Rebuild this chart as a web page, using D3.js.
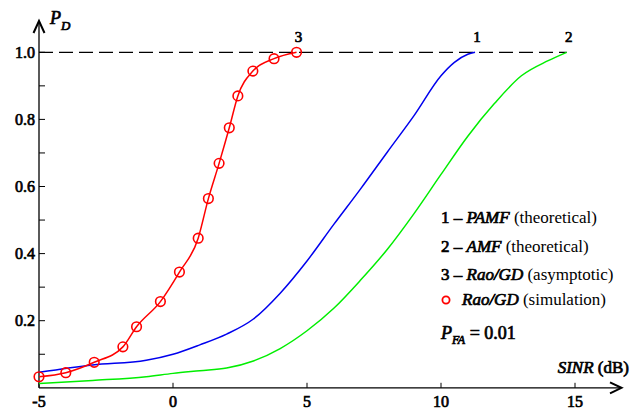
<!DOCTYPE html>
<html><head><meta charset="utf-8">
<script src="https://cdn.jsdelivr.net/npm/d3@7"></script>
</head><body style="margin:0">
<svg id="c" width="631" height="410"></svg>
<script>
// PAMF (theoretical), curve 1
const pamfX = [-5, -3, -1, 0, 1, 2, 3, 4, 5, 6, 7, 8, 9, 10, 10.5, 11, 11.27];
const pamfY = [0.046, 0.068, 0.082, 0.100, 0.128, 0.160, 0.205, 0.282, 0.378, 0.487, 0.593, 0.703, 0.812, 0.930, 0.970, 0.994, 1.0];
// AMF (theoretical), curve 2
const amfX = [-5, -3, -1, 0, 1, 2, 3, 4, 5, 6, 7, 8, 9, 10, 11, 12, 13, 14, 14.69];
const amfY = [0.013, 0.022, 0.033, 0.043, 0.051, 0.059, 0.080, 0.117, 0.170, 0.237, 0.321, 0.413, 0.520, 0.636, 0.750, 0.848, 0.930, 0.975, 1.0];
// Rao/GD (asymptotic), curve 3
const raoX = [-5, -4.0, -2.94, -1.87, -1.36, -0.47, 0.24, 0.94, 1.32, 1.72, 2.10, 2.42, 2.98, 3.77, 4.61];
const raoY = [0.033, 0.045, 0.076, 0.122, 0.182, 0.257, 0.345, 0.446, 0.564, 0.669, 0.775, 0.870, 0.944, 0.981, 1.0];
// Rao/GD (simulation) markers
const simX = [-5, -4.0, -2.94, -1.87, -1.36, -0.47, 0.24, 0.94, 1.32, 1.72, 2.10, 2.42, 2.98, 3.77, 4.61];
const simY = [0.033, 0.045, 0.076, 0.122, 0.182, 0.257, 0.345, 0.446, 0.564, 0.669, 0.775, 0.870, 0.944, 0.981, 1.0];

const xTicks = [-5, 0, 5, 10, 15];
const yTicks = [0.2, 0.4, 0.6, 0.8, 1.0];
const yMinor = [0.1, 0.3, 0.5, 0.7, 0.9];
const curveLabels = [{t:"3", x:4.61}, {t:"1", x:11.27}, {t:"2", x:14.69}];

const FAM = "'Liberation Serif'";
const svg = d3.select("#c");
// bold look: regular serif face with a thin outline
function bold(sel) { return sel.attr("stroke", "#000").attr("stroke-width", 0.7); }
function T(size, isBold) {
  const t = svg.append("text").style("font-family", FAM).style("font-size", size + "px").attr("fill", "#000");
  return isBold ? bold(t) : t;
}
const x = d3.scaleLinear().domain([-5, 15]).range([39, 575.0]);
const y = d3.scaleLinear().domain([0, 1]).range([387.8, 52.3]);

// dashed 1.0 line
svg.append("line").attr("x1", x(-5)).attr("x2", x(14.69)).attr("y1", y(1)).attr("y2", y(1))
  .attr("stroke", "#000").attr("stroke-width", 1.2).attr("stroke-dasharray", "14,6");

// axes
const ax = svg.append("g").attr("stroke", "#000").attr("fill", "none");
ax.append("line").attr("x1", x(-5)).attr("x2", 621).attr("y1", y(0)).attr("y2", y(0)).attr("stroke-width", 1.3);
ax.append("path").attr("d", `M610,${y(0)-5.5}L621.5,${y(0)}L610,${y(0)+5.5}`).attr("stroke-width", 2);
ax.append("line").attr("x1", x(-5)).attr("x2", x(-5)).attr("y1", y(0)).attr("y2", 21).attr("stroke-width", 1.3);
ax.append("path").attr("d", `M${x(-5)-5.5},33L${x(-5)},21L${x(-5)+5.5},33`).attr("stroke-width", 2);

xTicks.forEach(v => {
  ax.append("line").attr("x1", x(v)).attr("x2", x(v)).attr("y1", y(0)).attr("y2", y(0)-5).attr("stroke-width", 1);
  T(16, true).attr("x", x(v)).attr("y", y(0)+19).attr("text-anchor", "middle")
    .text(v < 0 ? "-" + Math.abs(v) : v);
});
yTicks.concat(yMinor).forEach(v => {
  ax.append("line").attr("x1", x(-5)).attr("x2", x(-5)+6).attr("y1", y(v)).attr("y2", y(v)).attr("stroke-width", 1);
});
yTicks.forEach(v => {
  T(16, true).attr("x", 35).attr("y", y(v)+5.5).attr("text-anchor", "end").text(v.toFixed(1));
});

const line = d3.line().x(d => x(d[0])).y(d => y(d[1])).curve(d3.curveMonotoneX);
function series(X, Y, color) {
  svg.append("path").datum(X.map((v, i) => [v, Y[i]])).attr("d", line)
    .attr("fill", "none").attr("stroke", color).attr("stroke-width", 1.5);
}
series(amfX, amfY, "#00ee00");
series(pamfX, pamfY, "#0000ee");
series(raoX, raoY, "#ff0000");
svg.append("g").selectAll("circle").data(simX.map((v, i) => [v, simY[i]])).join("circle")
  .attr("cx", d => x(d[0])).attr("cy", d => y(d[1])).attr("r", 4.8)
  .attr("fill", "none").attr("stroke", "#ff0000").attr("stroke-width", 1.6);

curveLabels.forEach(c => {
  T(15, true).attr("x", x(c.x)+2).attr("y", y(1)-10).attr("text-anchor", "middle").text(c.t);
});

// axis titles
const pd = T(18, true).style("font-style", "italic").attr("x", 50).attr("y", 24);
pd.append("tspan").text("P");
pd.append("tspan").attr("dy", 6).style("font-size", "13px").text("D");

const sn = T(17, true).attr("x", 629).attr("y", 373).attr("text-anchor", "end");
sn.append("tspan").style("font-style", "italic").text("SINR");
sn.append("tspan").text(" (dB)");

// legend
const legend = [
  {n:"1 \u2013 ", name:"PAMF", rest:" (theoretical)", y:223},
  {n:"2 \u2013 ", name:"AMF", rest:" (theoretical)", y:252},
  {n:"3 \u2013 ", name:"Rao/GD", rest:" (asymptotic)", y:280},
  {n:"", name:"Rao/GD", rest:" (simulation)", y:305, marker:true}
];
legend.forEach(l => {
  const t = T(17, false).attr("x", l.marker ? 462 : 441).attr("y", l.y);
  if (l.n) bold(t.append("tspan")).text(l.n);
  bold(t.append("tspan")).style("font-style", "italic").text(l.name);
  t.append("tspan").text(l.rest);
  if (l.marker) svg.append("circle").attr("cx", 446).attr("cy", l.y-5).attr("r", 3.6)
    .attr("fill", "none").attr("stroke", "#ff0000").attr("stroke-width", 1.8);
});
const pf = T(18, true).attr("x", 441).attr("y", 339);
pf.append("tspan").style("font-style", "italic").text("P");
pf.append("tspan").attr("dy", 5).style("font-size", "12px").style("font-style", "italic").text("FA");
pf.append("tspan").attr("dy", -5).text(" = 0.01");
</script></body></html>
